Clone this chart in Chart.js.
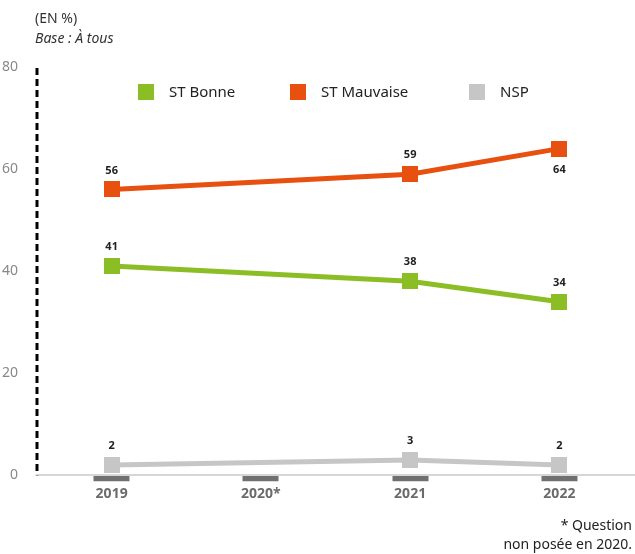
<!DOCTYPE html>
<html>
<head>
<meta charset="utf-8">
<script src="https://cdn.jsdelivr.net/npm/chart.js@4.4.1/dist/chart.umd.min.js"></script>
<style>
  body { margin: 0; background: #fff; font-family: "Noto Sans", sans-serif; }
  #wrap { position: relative; width: 635px; height: 554px; }
  #titre { position: absolute; left: 35px; top: 8px; font-size: 14px; color: #333; line-height: 20px; }
  #note { position: absolute; right: 3px; top: 515px; font-size: 14px; color: #222; line-height: 19px; text-align: right; }
</style>
</head>
<body>
<div id="wrap">
  <canvas id="graphique" width="635" height="554"></canvas>
  <div id="titre">(EN %)<br><i>Base : À tous</i></div>
  <div id="note">* Question<br>non posée en 2020.</div>
</div>
<script>
// Données
const annees = ['2019', '2020*', '2021', '2022'];
const stBonne = [41, null, 38, 34];
const stMauvaise = [56, null, 59, 64];
const nsp = [2, null, 3, 2];
const graduationsY = [0, 20, 40, 60, 80];

const couleurs = ['#8bbd24', '#e8500f', '#c6c6c6'];
const posLegende = [138, 290, 469];

// Marqueur carré 16x16 (image, pour ne pas réserver de marge autour des points)
function carre(couleur) {
  const c = document.createElement('canvas');
  c.width = 16;
  c.height = 16;
  const g = c.getContext('2d');
  g.fillStyle = couleur;
  g.fillRect(0, 0, 16, 16);
  return c;
}

// Étiquettes de valeurs au-dessus (ou en dessous) des points
const etiquettes = {
  id: 'etiquettes',
  afterDatasetsDraw(chart) {
    const ctx = chart.ctx;
    ctx.save();
    ctx.font = 'bold 11px "Noto Sans"';
    ctx.fillStyle = '#222';
    ctx.textAlign = 'center';
    ctx.textBaseline = 'middle';
    chart.data.datasets.forEach((ds, i) => {
      chart.getDatasetMeta(i).data.forEach((pt, j) => {
        const v = ds.data[j];
        if (v === null) return;
        const dessous = ds.dessous && ds.dessous[j];
        ctx.fillText(String(v), pt.x, dessous ? pt.y + 21 : pt.y - 19);
      });
    });
    ctx.restore();
  }
};

// Axe vertical en pointillés
const axePointille = {
  id: 'axePointille',
  afterDraw(chart) {
    const ctx = chart.ctx;
    const y = chart.scales.y;
    ctx.save();
    ctx.strokeStyle = '#000';
    ctx.lineWidth = 3;
    ctx.setLineDash([7, 4]);
    ctx.beginPath();
    ctx.moveTo(chart.chartArea.left, y.top + 1);
    ctx.lineTo(chart.chartArea.left, y.bottom);
    ctx.stroke();
    ctx.restore();
  }
};

// Légende dessinée à la main
const legende = {
  id: 'legende',
  afterDraw(chart) {
    const ctx = chart.ctx;
    ctx.save();
    ctx.font = '15px "Noto Sans"';
    ctx.textBaseline = 'middle';
    chart.data.datasets.forEach((ds, i) => {
      const x = posLegende[i];
      ctx.fillStyle = ds.borderColor;
      ctx.fillRect(x, 84, 16, 16);
      ctx.fillStyle = '#222';
      ctx.fillText(ds.label, x + 31, 93);
    });
    ctx.restore();
  }
};

function serie(label, data, couleur, extra) {
  return Object.assign({
    label: label,
    data: data,
    borderColor: couleur,
    backgroundColor: couleur,
    borderWidth: 5,
    pointStyle: carre(couleur),
    pointRadius: 1,
    pointHoverRadius: 1,
    pointBorderWidth: 0,
    tension: 0,
    spanGaps: true
  }, extra || {});
}

const contexte = document.getElementById('graphique').getContext('2d');
const graphique = new Chart(contexte, {
  type: 'line',
  data: {
    labels: annees,
    datasets: [
      serie('ST Bonne', stBonne, couleurs[0]),
      serie('ST Mauvaise', stMauvaise, couleurs[1], { dessous: [false, false, false, true] }),
      serie('NSP', nsp, couleurs[2])
    ]
  },
  options: {
    responsive: false,
    animation: false,
    clip: false,
    layout: { padding: { top: 67, bottom: 48, left: 0, right: 0 } },
    plugins: {
      legend: { display: false },
      tooltip: { enabled: false }
    },
    scales: {
      x: {
        type: 'category',
        offset: true,
        afterFit(scale) { scale.paddingLeft = 0; scale.paddingRight = 0; },
        grid: {
          offset: false,
          drawOnChartArea: false,
          drawTicks: true,
          tickLength: 6,
          tickWidth: 36,
          tickColor: '#707070'
        },
        border: { color: '#d6d6d6', width: 2 },
        ticks: {
          padding: 4,
          color: '#6b6b6b',
          font: { family: 'Noto Sans', size: 14, weight: 'bold' }
        }
      },
      y: {
        min: 0,
        max: 80,
        afterBuildTicks(scale) {
          scale.ticks = graduationsY.map(v => ({ value: v }));
        },
        afterFit(scale) { scale.width = 37; },
        grid: { display: false },
        border: { display: false },
        ticks: {
          padding: 11,
          color: '#888',
          font: { family: 'Noto Sans', size: 14 }
        }
      }
    }
  },
  plugins: [etiquettes, axePointille, legende]
});
</script>
</body>
</html>
